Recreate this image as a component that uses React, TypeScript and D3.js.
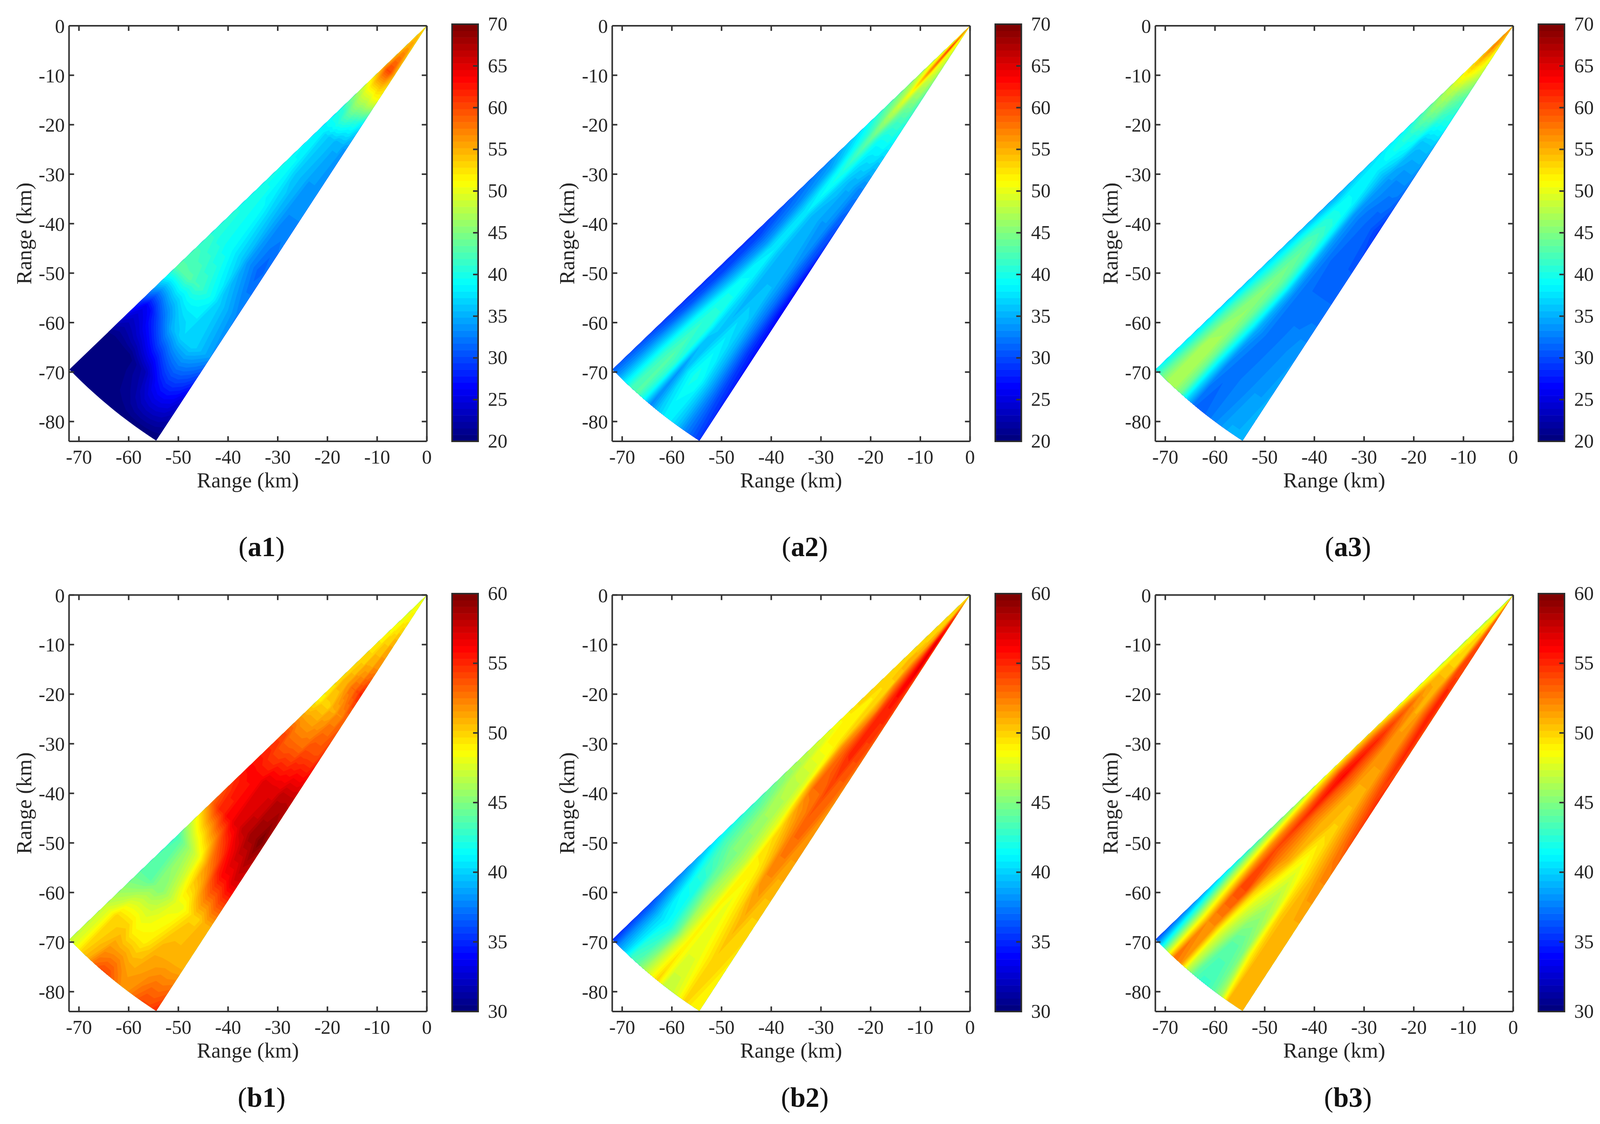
import React, { useEffect, useRef } from 'react';
import * as d3 from 'd3';

// range gates (km), one row of values per gate
const rangeRows = [0, 6, 12, 18, 24, 30, 40, 50, 60, 70, 80, 90, 100];
// azimuth beams (deg from south towards west), one column per beam
const azimuthCols = [46, 45, 44, 43, 42, 41, 40, 39, 38, 37, 36, 35, 34, 33];

const xTicks = [-70, -60, -50, -40, -30, -20, -10, 0];
const yTicks = [0, -10, -20, -30, -40, -50, -60, -70, -80];
const barTicksA = [20, 25, 30, 35, 40, 45, 50, 55, 60, 65, 70];
const barTicksB = [30, 35, 40, 45, 50, 55, 60];

const a1Values = [
  [53, 53, 53, 53, 53, 53, 53, 53, 53, 53, 53, 53, 53, 53],
  [54, 55, 55, 55, 56, 56, 56, 56, 56, 56, 55, 55, 54, 54],
  [56, 57, 58, 59, 60, 60, 60, 60, 60, 59, 58, 57, 56, 55],
  [48, 49, 49, 50, 50, 50, 50, 50, 50, 51, 51, 51, 51, 51],
  [40, 41, 41, 42, 43, 43, 43, 42, 42, 41, 41, 40, 39, 38],
  [38, 38, 38, 37, 37, 36, 36, 36, 35, 35, 35, 35, 34, 34],
  [40, 39, 39, 38, 37, 36, 36, 35, 35, 34, 34, 34, 34, 34],
  [40, 40, 40, 39, 39, 38, 37, 36, 35, 34, 33, 33, 33, 33],
  [41, 41, 40, 40, 39, 39, 38, 37, 36, 34, 33, 32, 31, 32],
  [43, 43, 43, 43, 42, 42, 41, 40, 39, 37, 36, 35, 34, 33],
  [29, 26, 27, 29, 31, 33, 35, 36, 37, 37, 37, 36, 35, 34],
  [20, 20, 20, 20, 20, 21, 22, 23, 25, 27, 28, 28, 27, 25],
  [20, 20, 20, 20, 20, 20, 20, 20, 20, 20, 20, 20, 20, 20],
];

const a2Values = [
  [54, 54, 54, 54, 56, 56, 55, 54, 54, 54, 54, 54, 54, 54],
  [50, 52, 54, 56, 60, 60, 58, 54, 52, 51, 50, 50, 50, 49],
  [48, 50, 51, 53, 56, 57, 54, 51, 50, 49, 49, 48, 47, 47],
  [45, 46, 47, 48, 50, 51, 49, 47, 46, 46, 46, 45, 44, 43],
  [42, 43, 44, 45, 47, 47, 46, 44, 43, 42, 42, 42, 41, 41],
  [38, 39, 40, 41, 43, 44, 42, 40, 39, 39, 39, 39, 38, 38],
  [33, 34, 35, 37, 39, 40, 39, 37, 36, 35, 35, 34, 33, 33],
  [31, 32, 33, 35, 37, 38, 36, 35, 35, 34, 34, 33, 31, 30],
  [29, 30, 32, 34, 37, 38, 36, 35, 35, 35, 34, 32, 30, 27],
  [29, 30, 33, 36, 39, 39, 37, 35, 36, 36, 34, 32, 29, 26],
  [29, 31, 35, 39, 41, 41, 37, 36, 38, 37, 35, 32, 29, 27],
  [30, 33, 37, 41, 43, 41, 34, 38, 40, 39, 36, 33, 30, 28],
  [31, 34, 38, 42, 43, 39, 33, 36, 38, 38, 36, 33, 31, 29],
];

const a3Values = [
  [56, 56, 56, 56, 56, 56, 56, 56, 56, 56, 56, 56, 56, 56],
  [54, 56, 57, 57, 57, 56, 55, 55, 55, 54, 53, 52, 52, 52],
  [52, 53, 53, 53, 52, 52, 51, 51, 50, 50, 49, 49, 48, 48],
  [47, 48, 48, 48, 47, 47, 46, 45, 45, 44, 44, 43, 43, 42],
  [43, 44, 45, 45, 44, 44, 43, 42, 41, 41, 40, 40, 40, 39],
  [39, 40, 41, 41, 40, 40, 39, 37, 36, 36, 36, 36, 36, 35],
  [37, 38, 38, 38, 37, 36, 35, 34, 34, 33, 33, 33, 33, 32],
  [35, 37, 39, 39, 39, 37, 34, 33, 32, 32, 31, 31, 30, 29],
  [36, 39, 42, 43, 42, 39, 35, 33, 32, 31, 31, 31, 31, 31],
  [37, 40, 43, 45, 44, 41, 36, 33, 32, 32, 32, 32, 32, 32],
  [37, 42, 45, 46, 44, 40, 35, 33, 32, 32, 33, 33, 34, 34],
  [38, 43, 47, 47, 44, 38, 33, 32, 32, 33, 33, 34, 34, 35],
  [39, 44, 47, 47, 44, 37, 32, 31, 32, 33, 34, 35, 35, 35],
];

const b1Values = [
  [48, 48, 48, 48, 48, 48, 48, 48, 48, 48, 48, 48, 48, 48],
  [48, 48, 48, 48, 48, 48, 49, 49, 49, 49, 49, 49, 49, 49],
  [49, 49, 49, 49, 50, 50, 50, 50, 50, 50, 51, 51, 51, 51],
  [50, 50, 50, 50, 50, 51, 51, 51, 51, 51, 52, 52, 52, 52],
  [50, 50, 51, 51, 51, 52, 52, 53, 53, 53, 54, 54, 55, 55],
  [49, 49, 50, 50, 50, 50, 51, 51, 51, 52, 52, 52, 53, 53],
  [54, 54, 53, 53, 53, 53, 53, 53, 54, 54, 54, 54, 54, 55],
  [56, 56, 56, 56, 56, 57, 57, 57, 57, 57, 58, 58, 58, 58],
  [53, 54, 55, 55, 56, 56, 57, 57, 58, 58, 59, 59, 60, 59],
  [43, 44, 45, 46, 47, 48, 50, 52, 53, 55, 56, 56, 57, 57],
  [44, 44, 44, 45, 45, 46, 47, 48, 48, 49, 50, 50, 51, 51],
  [47, 48, 50, 50, 50, 49, 49, 49, 50, 51, 51, 51, 51, 51],
  [47, 48, 50, 51, 53, 54, 54, 53, 52, 52, 53, 54, 54, 55],
];

const b2Values = [
  [50, 50, 50, 50, 50, 50, 50, 50, 50, 50, 50, 50, 50, 50],
  [50, 50, 50, 50, 50, 50, 50, 51, 52, 53, 54, 55, 55, 53],
  [50, 50, 50, 50, 50, 51, 51, 52, 53, 55, 56, 57, 56, 54],
  [50, 50, 50, 51, 51, 51, 52, 53, 54, 55, 56, 57, 56, 54],
  [50, 50, 50, 50, 50, 50, 52, 53, 54, 55, 56, 56, 55, 54],
  [50, 50, 49, 49, 50, 50, 51, 52, 54, 55, 55, 55, 55, 54],
  [48, 48, 49, 49, 49, 50, 52, 53, 54, 55, 55, 54, 54, 53],
  [46, 46, 47, 47, 47, 48, 51, 53, 53, 53, 54, 53, 53, 52],
  [43, 44, 45, 46, 46, 47, 48, 50, 51, 52, 53, 53, 52, 52],
  [41, 43, 44, 45, 45, 46, 47, 49, 49, 50, 52, 52, 51, 51],
  [38, 40, 42, 42, 44, 46, 47, 49, 48, 49, 50, 51, 50, 50],
  [36, 38, 40, 41, 42, 44, 47, 49, 48, 48, 49, 50, 50, 49],
  [35, 38, 40, 43, 44, 46, 48, 50, 47, 47, 48, 50, 49, 49],
];

const b3Values = [
  [47, 47, 47, 47, 48, 48, 48, 48, 49, 50, 50, 51, 51, 52],
  [47, 47, 47, 48, 48, 49, 49, 49, 50, 51, 52, 53, 53, 53],
  [47, 48, 48, 49, 49, 50, 50, 50, 51, 52, 53, 54, 54, 54],
  [47, 48, 49, 50, 50, 50, 50, 50, 51, 53, 54, 54, 54, 54],
  [48, 49, 50, 51, 51, 51, 51, 51, 52, 53, 54, 55, 55, 54],
  [48, 50, 52, 53, 52, 52, 51, 51, 52, 53, 54, 55, 55, 54],
  [50, 52, 54, 55, 54, 53, 52, 52, 52, 52, 53, 54, 55, 54],
  [49, 52, 55, 56, 54, 53, 52, 51, 51, 51, 52, 53, 54, 55],
  [46, 50, 53, 55, 53, 52, 51, 51, 50, 50, 51, 52, 53, 54],
  [44, 48, 52, 54, 53, 52, 51, 49, 48, 49, 50, 51, 52, 52],
  [41, 46, 50, 54, 54, 50, 48, 47, 46, 47, 50, 51, 51, 51],
  [38, 43, 48, 52, 52, 48, 46, 44, 44, 45, 49, 51, 51, 51],
  [36, 41, 47, 53, 52, 47, 44, 43, 43, 44, 46, 51, 51, 51],
];

const TICK = '#262626';
const LINE = '#333';
const FONT = '"Liberation Serif", "Times New Roman", serif';

// MATLAB jet(64)
const jet = d3.scaleLinear<string>()
  .domain([0, 0.125, 0.375, 0.625, 0.875, 1])
  .range(['#000080', '#0000ff', '#00ffff', '#ffff00', '#ff0000', '#800000'])
  .interpolate(d3.interpolateRgb);
const LEVELS = 64;

interface PanelDef {
  letter: string;
  num: string;
  values: number[][];
  ticks: number[];
  col: number;
  row: number;
}

const panels: PanelDef[] = [
  { letter: 'a', num: '1', values: a1Values, ticks: barTicksA, col: 0, row: 0 },
  { letter: 'a', num: '2', values: a2Values, ticks: barTicksA, col: 1, row: 0 },
  { letter: 'a', num: '3', values: a3Values, ticks: barTicksA, col: 2, row: 0 },
  { letter: 'b', num: '1', values: b1Values, ticks: barTicksB, col: 0, row: 1 },
  { letter: 'b', num: '2', values: b2Values, ticks: barTicksB, col: 1, row: 1 },
  { letter: 'b', num: '3', values: b3Values, ticks: barTicksB, col: 2, row: 1 },
];

const colX = [176.7, 1567.3, 2957.7];
const rowTop = [66, 1523.5];
const rowBottom = [1130, 2590];
const barTop = [62, 1520];
const plotW = 916;

const App: React.FC = () => {
  const svgRef = useRef<SVGSVGElement | null>(null);

  useEffect(() => {
    const svg = d3.select(svgRef.current!);
    svg.selectAll('*').remove();

    panels.forEach(p => drawPanel(svg, p));
  }, []);

  const styleAxis = (g: any, showLabels: boolean) => {
    g.selectAll('.domain').attr('stroke', LINE).attr('stroke-width', 4);
    g.selectAll('.tick line').attr('stroke', LINE).attr('stroke-width', 4);
    g.selectAll('.tick text')
      .attr('fill', TICK)
      .attr('font-family', FONT)
      .attr('font-size', 50);
    if (!showLabels) g.selectAll('.tick text').remove();
  };

  const drawPanel = (svg: any, p: PanelDef) => {
    const left = colX[p.col];
    const right = left + plotW;
    const top = rowTop[p.row];
    const bottom = rowBottom[p.row];

    const x = d3.scaleLinear().domain([-72, 0]).range([left, right]);
    const y = d3.scaleLinear().domain([0, -84]).range([top, bottom]);

    // contour grid position -> azimuth / range, samples sit on cell centres
    const azScale = d3.scaleLinear()
      .domain([0, ...azimuthCols.map((_, i) => i + 0.5), azimuthCols.length])
      .range([azimuthCols[0], ...azimuthCols, azimuthCols[azimuthCols.length - 1]]);
    const rScale = d3.scaleLinear()
      .domain([0, ...rangeRows.map((_, i) => i + 0.5), rangeRows.length])
      .range([rangeRows[0], ...rangeRows, rangeRows[rangeRows.length - 1]]);

    const fan = d3.geoTransform({
      point(u: number, v: number) {
        const az = (azScale(u) * Math.PI) / 180;
        const r = rScale(v);
        this.stream.point(x(-r * Math.sin(az)), y(-r * Math.cos(az)));
      },
    });
    const path = d3.geoPath(fan);

    const lo = p.ticks[0];
    const hi = p.ticks[p.ticks.length - 1];
    const step = (hi - lo) / LEVELS;
    const thresholds = d3.range(LEVELS).map(i => (i === 0 ? lo - 100 : lo + i * step));

    const contours = d3.contours()
      .size([azimuthCols.length, rangeRows.length])
      .smooth(true)
      .thresholds(thresholds)(p.values.flat());

    const g = svg.append('g');
    g.selectAll('path')
      .data(contours)
      .enter()
      .append('path')
      .attr('d', (d: any) => path(d))
      .attr('fill', (_: any, i: number) => jet(i / (LEVELS - 1)));

    // box with inward ticks on all four sides
    const tickLen = -13;
    const bottomAxis = svg.append('g')
      .attr('transform', `translate(0,${bottom})`)
      .call(d3.axisBottom(x).tickValues(xTicks).tickFormat(String as any)
        .tickSizeInner(tickLen).tickSizeOuter(0).tickPadding(21).offset(0));
    styleAxis(bottomAxis, true);

    const topAxis = svg.append('g')
      .attr('transform', `translate(0,${top})`)
      .call(d3.axisTop(x).tickValues(xTicks).tickSizeInner(tickLen).tickSizeOuter(0).offset(0));
    styleAxis(topAxis, false);

    const leftAxis = svg.append('g')
      .attr('transform', `translate(${left},0)`)
      .call(d3.axisLeft(y).tickValues(yTicks).tickFormat(String as any)
        .tickSizeInner(tickLen).tickSizeOuter(0).tickPadding(11).offset(0));
    styleAxis(leftAxis, true);
    leftAxis.selectAll('.tick text').attr('dy', '0.36em');

    const rightAxis = svg.append('g')
      .attr('transform', `translate(${right},0)`)
      .call(d3.axisRight(y).tickValues(yTicks).tickSizeInner(tickLen).tickSizeOuter(0).offset(0));
    styleAxis(rightAxis, false);

    svg.append('text')
      .attr('x', (left + right) / 2)
      .attr('y', bottom + 118)
      .attr('text-anchor', 'middle')
      .attr('font-family', FONT)
      .attr('font-size', 55)
      .attr('fill', TICK)
      .text('Range (km)');

    svg.append('text')
      .attr('transform', `translate(${left - 97},${(top + bottom) / 2}) rotate(-90)`)
      .attr('text-anchor', 'middle')
      .attr('font-family', FONT)
      .attr('font-size', 55)
      .attr('fill', TICK)
      .text('Range (km)');

    // colorbar
    const barLeft = left + 980.6;
    const barWidth = 66.7;
    const barY = d3.scaleLinear().domain([lo, hi]).range([bottom, barTop[p.row]]);

    svg.append('g')
      .selectAll('rect')
      .data(d3.range(LEVELS))
      .enter()
      .append('rect')
      .attr('x', barLeft)
      .attr('width', barWidth)
      .attr('y', (i: number) => barY(lo + (i + 1) * step))
      .attr('height', Math.abs(barY(lo) - barY(lo + step)) + 0.5)
      .attr('fill', (i: number) => jet(i / (LEVELS - 1)));

    svg.append('rect')
      .attr('x', barLeft)
      .attr('y', barTop[p.row])
      .attr('width', barWidth)
      .attr('height', bottom - barTop[p.row])
      .attr('fill', 'none')
      .attr('stroke', '#2b2b2b')
      .attr('stroke-width', 4);

    const barAxis = svg.append('g')
      .attr('transform', `translate(${barLeft + barWidth},0)`)
      .call(d3.axisRight(barY).tickValues(p.ticks).tickFormat(String as any)
        .tickSizeInner(tickLen).tickSizeOuter(0).tickPadding(25).offset(0));
    styleAxis(barAxis, true);
    barAxis.select('.domain').remove();
    barAxis.selectAll('.tick line')
      .filter((d: any) => d === lo || d === hi)
      .remove();

    // panel caption
    const caption = svg.append('text')
      .attr('x', left + 493)
      .attr('y', p.row === 0 ? 1424 : 2834)
      .attr('text-anchor', 'middle')
      .attr('font-family', FONT)
      .attr('font-size', 71)
      .attr('fill', '#111');
    caption.append('tspan').text('(');
    caption.append('tspan').attr('font-weight', 'bold').text(p.letter + p.num);
    caption.append('tspan').text(')');
  };

  return (
    <svg
      ref={svgRef}
      width={4138}
      height={2878}
      style={{ position: 'absolute', left: 0, top: 0, display: 'block', background: '#fff' }}
    />
  );
};

export default App;
